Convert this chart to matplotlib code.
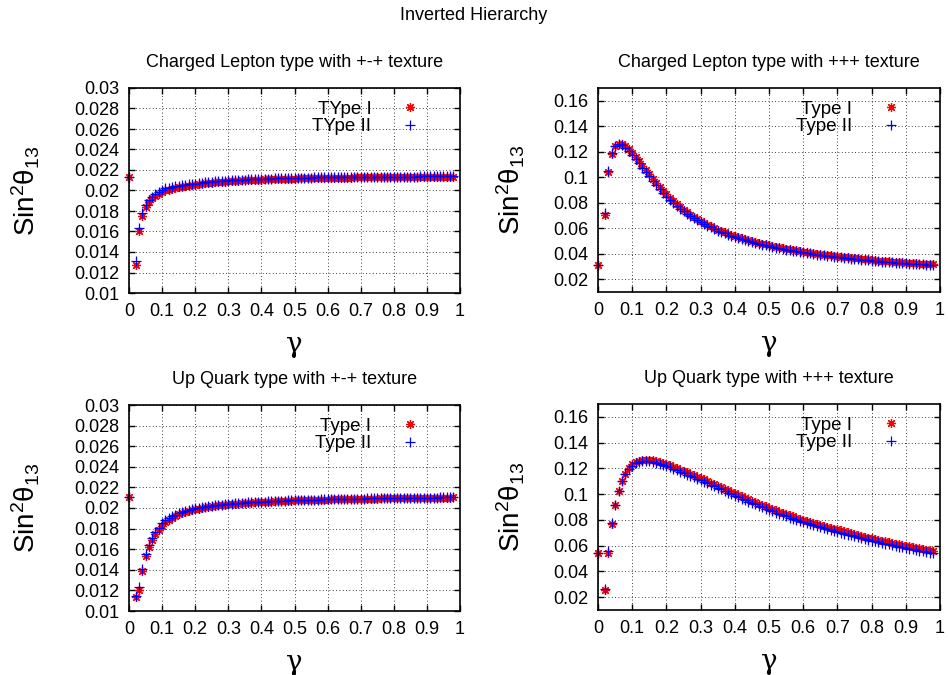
import numpy as np
import matplotlib
matplotlib.use("Agg")
import matplotlib.pyplot as plt
from matplotlib.ticker import FuncFormatter

plt.rcParams['font.family'] = ['Liberation Sans', 'DejaVu Sans']
plt.rcParams['mathtext.fontset'] = 'custom'
plt.rcParams['mathtext.rm'] = 'Liberation Sans'
plt.rcParams['mathtext.it'] = 'Liberation Sans:italic'

# gamma grid: 0, then 0.02 ... 0.98 (0.01 lies off scale)
gamma = np.concatenate([[0.0], np.arange(2, 99) / 100.0])

# Charged Lepton, +-+ texture
cl_pm_type1 = [
    0.0213, 0.01275, 0.0160, 0.0175, 0.0184, 0.0189, 0.0193, 0.0195, 0.0197, 0.0199,
    0.0200, 0.02008, 0.02016, 0.02023, 0.0203, 0.02036, 0.02042, 0.02047, 0.02052, 0.02057,
    0.02061, 0.02065, 0.02069, 0.02073, 0.02076, 0.02079, 0.02082, 0.02085, 0.02087, 0.0209,
    0.02092, 0.02094, 0.02096, 0.02098, 0.021, 0.02101, 0.02103, 0.02104, 0.02106, 0.02107,
    0.02108, 0.02109, 0.0211, 0.02111, 0.02112, 0.02113, 0.02114, 0.02115, 0.02116, 0.02117,
    0.02118, 0.02118, 0.02119, 0.0212, 0.0212, 0.02121, 0.02122, 0.02122, 0.02123, 0.02123,
    0.02124, 0.02124, 0.02125, 0.02125, 0.02126, 0.02126, 0.02126, 0.02127, 0.02127, 0.02128,
    0.02128, 0.02128, 0.02129, 0.02129, 0.02129, 0.0213, 0.0213, 0.0213, 0.0213, 0.02131,
    0.02131, 0.02131, 0.02131, 0.02132, 0.02132, 0.02132, 0.02132, 0.02133, 0.02133, 0.02133,
    0.02133, 0.02133, 0.02134, 0.02134, 0.02134, 0.02134, 0.02134, 0.02135,
]
cl_pm_type2 = [
    0.0213, 0.0131, 0.0163, 0.0178, 0.0186, 0.0191, 0.0194, 0.0197, 0.0199, 0.0200,
    0.0202, 0.02027, 0.02034, 0.0204, 0.02046, 0.0205, 0.02055, 0.0206, 0.02064, 0.02068,
    0.02072, 0.02076, 0.0208, 0.02083, 0.02086, 0.02089, 0.02092, 0.02094, 0.02096, 0.02098,
    0.021, 0.02102, 0.02104, 0.02106, 0.02107, 0.02109, 0.0211, 0.02112, 0.02113, 0.02114,
    0.02115, 0.02116, 0.02117, 0.02118, 0.02119, 0.0212, 0.02121, 0.02122, 0.02122, 0.02123,
    0.02124, 0.02124, 0.02125, 0.02126, 0.02126, 0.02127, 0.02127, 0.02128, 0.02128, 0.02129,
    0.02129, 0.0213, 0.0213, 0.0213, 0.02131, 0.02131, 0.02131, 0.02132, 0.02132, 0.02132,
    0.02133, 0.02133, 0.02133, 0.02134, 0.02134, 0.02134, 0.02134, 0.02135, 0.02135, 0.02135,
    0.02135, 0.02135, 0.02136, 0.02136, 0.02136, 0.02136, 0.02136, 0.02137, 0.02137, 0.02137,
    0.02137, 0.02137, 0.02137, 0.02138, 0.02138, 0.02138, 0.02138, 0.02138,
]

# Charged Lepton, +++ texture
cl_pp_type1 = [
    0.031, 0.0705, 0.104, 0.118, 0.1245, 0.1262, 0.1260, 0.1245, 0.1220, 0.1190,
    0.1158, 0.1125, 0.1091, 0.1057, 0.1023, 0.0990, 0.0958, 0.0926, 0.0895, 0.0865,
    0.0837, 0.0812, 0.0788, 0.0766, 0.0745, 0.0725, 0.0707, 0.0689, 0.0673, 0.0657,
    0.0642, 0.0628, 0.0615, 0.0602, 0.0590, 0.0579, 0.0568, 0.0558, 0.0548, 0.0539,
    0.0531, 0.0523, 0.0515, 0.0507, 0.0500, 0.0493, 0.0486, 0.0479, 0.0473, 0.0467,
    0.0461, 0.0455, 0.0450, 0.0445, 0.0440, 0.0435, 0.0430, 0.0426, 0.0421, 0.0417,
    0.0413, 0.0409, 0.0405, 0.0401, 0.0397, 0.0394, 0.0390, 0.0387, 0.0383, 0.0380,
    0.0377, 0.0374, 0.0371, 0.0368, 0.0365, 0.0363, 0.0360, 0.0357, 0.0355, 0.0352,
    0.0350, 0.0347, 0.0345, 0.0343, 0.0341, 0.0339, 0.0336, 0.0334, 0.0332, 0.0330,
    0.0329, 0.0327, 0.0325, 0.0323, 0.0322, 0.0320, 0.0318, 0.0317,
]
cl_pp_type2 = [
    0.031, 0.072, 0.105, 0.119, 0.1245, 0.1258, 0.1252, 0.1232, 0.1205, 0.1175,
    0.1142, 0.1108, 0.1074, 0.1040, 0.1006, 0.0973, 0.0941, 0.0910, 0.0879, 0.0848,
    0.0822, 0.0798, 0.0775, 0.0754, 0.0734, 0.0715, 0.0697, 0.0680, 0.0664, 0.0648,
    0.0633, 0.0619, 0.0606, 0.0594, 0.0582, 0.0571, 0.0560, 0.0550, 0.0541, 0.0532,
    0.0524, 0.0516, 0.0508, 0.0500, 0.0493, 0.0486, 0.0479, 0.0472, 0.0466, 0.0460,
    0.0454, 0.0448, 0.0443, 0.0438, 0.0433, 0.0428, 0.0423, 0.0419, 0.0414, 0.0410,
    0.0406, 0.0402, 0.0398, 0.0394, 0.0391, 0.0387, 0.0384, 0.0380, 0.0377, 0.0374,
    0.0371, 0.0368, 0.0365, 0.0362, 0.0359, 0.0357, 0.0354, 0.0351, 0.0349, 0.0346,
    0.0344, 0.0342, 0.0339, 0.0337, 0.0335, 0.0333, 0.0331, 0.0329, 0.0327, 0.0325,
    0.0323, 0.0321, 0.0320, 0.0318, 0.0316, 0.0315, 0.0313, 0.0311,
]

# Up Quark, +-+ texture
uq_pm_type1 = [
    0.0211, 0.0114, 0.0120, 0.0139, 0.0153, 0.0162, 0.0169, 0.0175, 0.0179, 0.0183,
    0.0186, 0.01885, 0.01905, 0.01922, 0.01937, 0.0195, 0.01961, 0.01971, 0.0198, 0.01988,
    0.01995, 0.02001, 0.02007, 0.02012, 0.02017, 0.02021, 0.02025, 0.02028, 0.02032, 0.02035,
    0.02038, 0.02041, 0.02043, 0.02046, 0.02048, 0.0205, 0.02052, 0.02054, 0.02056, 0.02058,
    0.0206, 0.02062, 0.02063, 0.02065, 0.02066, 0.02068, 0.02069, 0.0207, 0.02071, 0.02073,
    0.02074, 0.02075, 0.02076, 0.02077, 0.02078, 0.02079, 0.0208, 0.02081, 0.02082, 0.02082,
    0.02083, 0.02084, 0.02085, 0.02086, 0.02086, 0.02087, 0.02088, 0.02088, 0.02089, 0.0209,
    0.0209, 0.02091, 0.02091, 0.02092, 0.02092, 0.02093, 0.02094, 0.02094, 0.02095, 0.02095,
    0.02095, 0.02096, 0.02096, 0.02097, 0.02097, 0.02098, 0.02098, 0.02098, 0.02099, 0.02099,
    0.02099, 0.021, 0.021, 0.021, 0.02101, 0.02101, 0.02101, 0.02102,
]
uq_pm_type2 = [
    0.0211, 0.0115, 0.0123, 0.0141, 0.0155, 0.0164, 0.0171, 0.0177, 0.0181, 0.0185,
    0.0188, 0.0190, 0.0192, 0.01935, 0.0195, 0.01962, 0.01972, 0.01981, 0.01989, 0.01996,
    0.02002, 0.02008, 0.02013, 0.02018, 0.02022, 0.02026, 0.0203, 0.02033, 0.02036, 0.02039,
    0.02042, 0.02045, 0.02047, 0.02049, 0.02052, 0.02054, 0.02056, 0.02058, 0.0206, 0.02061,
    0.02063, 0.02065, 0.02066, 0.02068, 0.02069, 0.0207, 0.02072, 0.02073, 0.02074, 0.02075,
    0.02076, 0.02077, 0.02078, 0.02079, 0.0208, 0.02081, 0.02082, 0.02083, 0.02084, 0.02085,
    0.02085, 0.02086, 0.02087, 0.02088, 0.02088, 0.02089, 0.0209, 0.0209, 0.02091, 0.02091,
    0.02092, 0.02093, 0.02093, 0.02094, 0.02094, 0.02095, 0.02095, 0.02096, 0.02096, 0.02097,
    0.02097, 0.02097, 0.02098, 0.02098, 0.02099, 0.02099, 0.02099, 0.021, 0.021, 0.021,
    0.02101, 0.02101, 0.02101, 0.02102, 0.02102, 0.02102, 0.02102, 0.02103,
]

# Up Quark, +++ texture
uq_pp_type1 = [
    0.054, 0.0255, 0.054, 0.077, 0.0915, 0.1025, 0.1105, 0.1160, 0.1205, 0.1235,
    0.1250, 0.1259, 0.1264, 0.1266, 0.1265, 0.1262, 0.1257, 0.1250, 0.1242, 0.1233,
    0.1223, 0.1213, 0.1202, 0.1191, 0.1180, 0.1169, 0.1158, 0.1147, 0.1136, 0.1125,
    0.1114, 0.1102, 0.1090, 0.1078, 0.1066, 0.1054, 0.1042, 0.1030, 0.1018, 0.1006,
    0.0995, 0.0983, 0.0972, 0.0960, 0.0949, 0.0938, 0.0927, 0.0916, 0.0905, 0.0894,
    0.0884, 0.0874, 0.0864, 0.0854, 0.0845, 0.0836, 0.0827, 0.0818, 0.0809, 0.0801,
    0.0793, 0.0785, 0.0777, 0.0769, 0.0761, 0.0754, 0.0747, 0.0740, 0.0733, 0.0726,
    0.0718, 0.0711, 0.0704, 0.0697, 0.0690, 0.0683, 0.0676, 0.0670, 0.0663, 0.0657,
    0.0651, 0.0645, 0.0639, 0.0633, 0.0627, 0.0621, 0.0616, 0.0610, 0.0605, 0.0599,
    0.0594, 0.0589, 0.0584, 0.0579, 0.0574, 0.0569, 0.0564, 0.0559,
]
uq_pp_type2 = [
    0.054, 0.026, 0.0555, 0.0775, 0.0915, 0.1025, 0.1100, 0.1155, 0.1195, 0.1222,
    0.1240, 0.1251, 0.1257, 0.1258, 0.1256, 0.1251, 0.1245, 0.1237, 0.1228, 0.1218,
    0.1207, 0.1196, 0.1185, 0.1174, 0.1163, 0.1152, 0.1141, 0.1130, 0.1119, 0.1108,
    0.1096, 0.1084, 0.1072, 0.1060, 0.1048, 0.1036, 0.1024, 0.1012, 0.1000, 0.0988,
    0.0977, 0.0965, 0.0954, 0.0942, 0.0931, 0.0920, 0.0909, 0.0898, 0.0887, 0.0876,
    0.0866, 0.0856, 0.0846, 0.0836, 0.0827, 0.0818, 0.0809, 0.0800, 0.0791, 0.0783,
    0.0775, 0.0767, 0.0759, 0.0751, 0.0743, 0.0736, 0.0729, 0.0722, 0.0715, 0.0708,
    0.0700, 0.0693, 0.0686, 0.0679, 0.0672, 0.0665, 0.0658, 0.0652, 0.0645, 0.0639,
    0.0633, 0.0627, 0.0621, 0.0615, 0.0609, 0.0603, 0.0598, 0.0592, 0.0587, 0.0581,
    0.0576, 0.0571, 0.0566, 0.0561, 0.0556, 0.0551, 0.0546, 0.0541,
]

titles = ['Charged Lepton type with +-+ texture', 'Charged Lepton type with +++ texture',
          'Up Quark type with +-+ texture', 'Up Quark type with +++ texture']
labels_pm_top = ['TYpe I', 'TYpe II']
labels_std = ['Type I', 'Type II']

W, H = 948, 675
fig = plt.figure(figsize=(W / 100, H / 100), dpi=100)
fig.text(0.5, 1 - 15 / H, 'Inverted Hierarchy', ha='center', va='center', fontsize=13)


def rect(x0, y0, x1, y1):
    # pixel box -> figure fraction
    return [x0 / W, 1 - y1 / H, (x1 - x0) / W, (y1 - y0) / H]


def gfmt(v, pos):
    return '%g' % round(v, 6)


panels = [
    (rect(129, 88, 460, 293), cl_pm_type1, cl_pm_type2, titles[0], labels_pm_top, 'small'),
    (rect(598, 88, 940, 292), cl_pp_type1, cl_pp_type2, titles[1], labels_std, 'large'),
    (rect(129, 405, 460, 611), uq_pm_type1, uq_pm_type2, titles[2], labels_std, 'small'),
    (rect(598, 404, 940, 610), uq_pp_type1, uq_pp_type2, titles[3], labels_std, 'large'),
]

for box, y1, y2, title, labs, scale in panels:
    ax = fig.add_axes(box)
    ax.plot(gamma, y1, linestyle='none', marker=(8, 2, 0), markersize=6.5,
            markeredgewidth=0.9, color='#ff0000', label=labs[0], clip_on=False)
    ax.plot(gamma, y2, linestyle='none', marker='+', markersize=6.5,
            markeredgewidth=0.9, color='#0000ff', label=labs[1], clip_on=False)
    ax.set_xlim(0, 1)
    ax.set_xticks(np.arange(0, 11) / 10)
    if scale == 'small':
        ax.set_ylim(0.01, 0.03)
        ax.set_yticks(np.arange(10, 31, 2) / 1000)
        ypad = 87
    else:
        ax.set_ylim(0.01, 0.17)
        ax.set_yticks(np.arange(2, 17, 2) / 100)
        ypad = 71
    ax.xaxis.set_major_formatter(FuncFormatter(gfmt))
    ax.yaxis.set_major_formatter(FuncFormatter(gfmt))
    ax.tick_params(direction='in', length=4.5, width=1, top=True, right=True,
                   labelsize=13, pad=7)
    ax.grid(True, color='black', linewidth=0.6, linestyle=(0, (1, 3)))
    for sp in ax.spines.values():
        sp.set_linewidth(1.2)
    ax.set_title(title, fontsize=13, pad=15)
    ax.set_xlabel('γ', fontsize=20, family='DejaVu Serif', labelpad=8)
    ax.set_ylabel('Sin$^{2}$θ$_{13}$', fontsize=20)
    ax.yaxis.set_label_coords(-(ypad / (box[2] * W)), 0.5)
    bx = 0.907 if scale == 'small' else 0.911
    ax.legend(loc='upper right', bbox_to_anchor=(bx, 0.957), frameon=False,
              markerfirst=False, fontsize=13.5, labelspacing=0.02, handlelength=1.6,
              handletextpad=1.28, borderpad=0.2, borderaxespad=0)

fig.savefig('out.png', dpi=100)
